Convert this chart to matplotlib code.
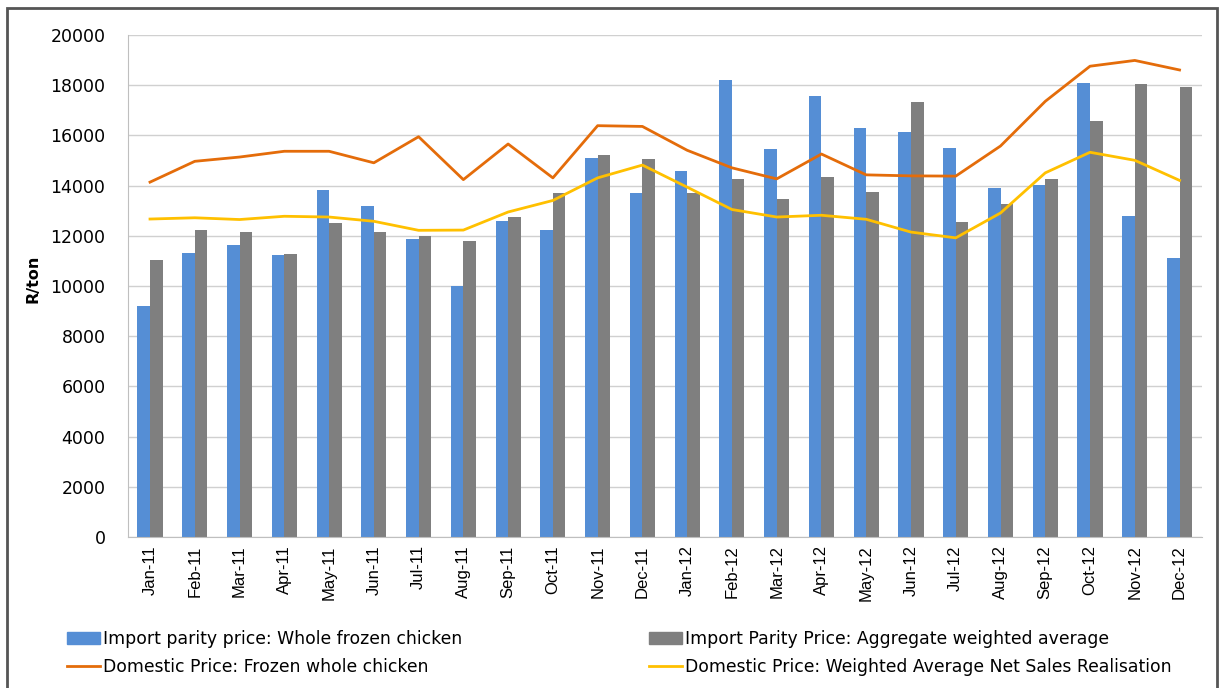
import matplotlib
matplotlib.use("Agg")
from matplotlib import pyplot as plt
from matplotlib.patches import Rectangle, Patch
from matplotlib.lines import Line2D
import numpy as np

months = ["Jan-11", "Feb-11", "Mar-11", "Apr-11", "May-11", "Jun-11",
          "Jul-11", "Aug-11", "Sep-11", "Oct-11", "Nov-11", "Dec-11",
          "Jan-12", "Feb-12", "Mar-12", "Apr-12", "May-12", "Jun-12",
          "Jul-12", "Aug-12", "Sep-12", "Oct-12", "Nov-12", "Dec-12"]

import_whole = [9200, 11330, 11650, 11220, 13810, 13200,
                11860, 10010, 12580, 12220, 15090, 13690,
                14580, 18230, 15470, 17560, 16290, 16120,
                15510, 13900, 14010, 18100, 12790, 11120]

import_aggregate = [11020, 12240, 12160, 11260, 12510, 12160,
                    12000, 11800, 12760, 13690, 15210, 15050,
                    13690, 14270, 13470, 14330, 13760, 17340,
                    12550, 13270, 14260, 16570, 18050, 17930]

domestic_frozen = [14140, 14970, 15140, 15370, 15370, 14910,
                   15950, 14240, 15660, 14310, 16390, 16360,
                   15410, 14710, 14270, 15260, 14430, 14390,
                   14380, 15580, 17360, 18760, 18990, 18610]

domestic_nsr = [12670, 12720, 12650, 12780, 12750, 12580,
                12220, 12230, 12950, 13410, 14310, 14820,
                13940, 13050, 12750, 12820, 12660, 12150,
                11920, 12910, 14510, 15330, 15010, 14210]

labels = ["Import parity price: Whole frozen chicken",
          "Domestic Price: Frozen whole chicken",
          "Import Parity Price: Aggregate weighted average",
          "Domestic Price: Weighted Average Net Sales Realisation"]

blue = "#558ED5"
grey = "#7F7F7F"
orange = "#E46C0A"
yellow = "#FFC000"

fig = plt.figure(figsize=(12.19, 6.88), dpi=100)
ax = fig.add_axes([0.1047, 0.2195, 0.8813, 0.7295])

x = np.arange(len(months))
w = 0.28
ax.bar(x - w / 2, import_whole, w, color=blue, zorder=2)
ax.bar(x + w / 2, import_aggregate, w, color=grey, zorder=2)
ax.plot(x, domestic_frozen, color=orange, lw=2.0, zorder=3)
ax.plot(x, domestic_nsr, color=yellow, lw=2.0, zorder=3)

ax.set_xlim(-0.5, len(months) - 0.5)
ax.set_ylim(0, 20000)
ax.set_yticks(np.arange(0, 20001, 2000))
ax.set_xticks(x)
ax.set_xticklabels(months, rotation=90, fontsize=12, family="Liberation Sans")
ax.tick_params(axis="y", length=0, pad=16, labelsize=12.5)
ax.tick_params(axis="x", length=0, pad=6)
ax.grid(axis="y", color="#D0D0D0", lw=1, zorder=0)
for s in ["top", "right"]:
    ax.spines[s].set_visible(False)
ax.spines["left"].set_color("#BFBFBF")
ax.spines["bottom"].set_color("#BFBFBF")

fig.text(0.027, 0.595, "R/ton", rotation=90, ha="center", va="center",
         fontsize=11.5, fontweight="bold")

# frame round the picture
fig.patches.append(Rectangle((7 / 1219, -0.05), 1210 / 1219, 1.05 - 8 / 688,
                             transform=fig.transFigure, fill=False,
                             edgecolor="#555555", lw=2))

h1 = [Patch(color=blue), Line2D([], [], color=orange, lw=2)]
h2 = [Patch(color=grey), Line2D([], [], color=yellow, lw=2)]
leg_kw = dict(frameon=False, prop={"size": 12.4},
              handlelength=1.9, handletextpad=0.2, labelspacing=0.6,
              loc="upper left", borderaxespad=0, borderpad=0)
fig.legend(h1, labels[:2], bbox_to_anchor=(67 / 1219, 1 - 630 / 688), **leg_kw)
fig.legend(h2, labels[2:], bbox_to_anchor=(649 / 1219, 1 - 630 / 688), **leg_kw)

fig.savefig("out.png", dpi=100)
